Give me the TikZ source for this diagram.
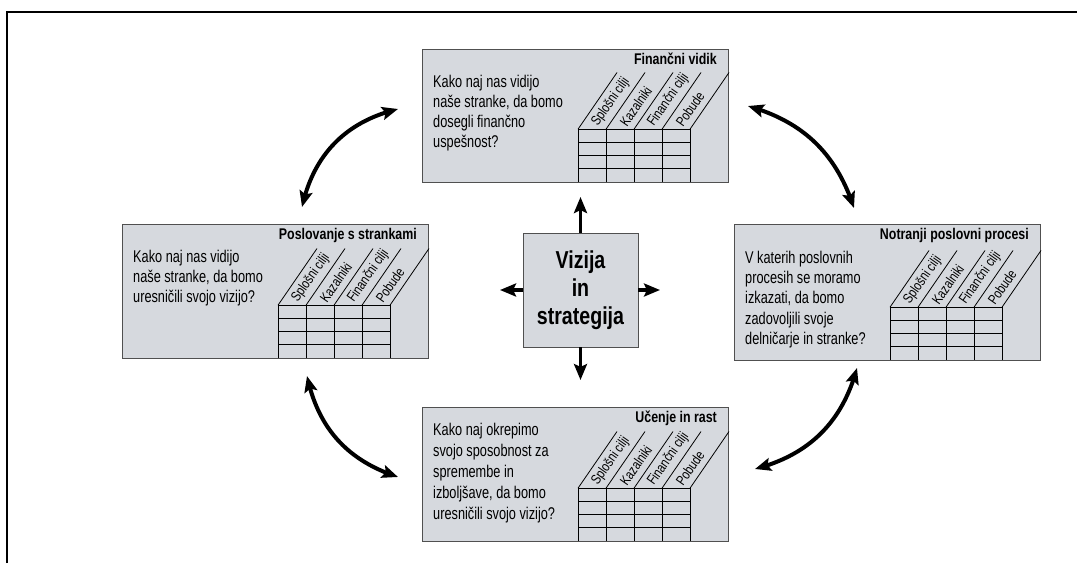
\documentclass[tikz,border=0pt]{standalone}
\usepackage{fontspec}
\setmainfont{Liberation Sans}
\newfontfamily\nf[FakeStretch=0.8]{Liberation Sans}
\newfontfamily\nb[FakeStretch=0.75]{Liberation Sans}
\usetikzlibrary{arrows.meta,bending,calc}
\definecolor{panelfill}{RGB}{214,217,222}
\definecolor{panelborder}{RGB}{80,80,80}
\tikzset{
  panel/.style={draw=panelborder, line width=0.8pt, fill=panelfill, inner sep=0pt, outer sep=0pt},
  tbl/.style={line width=0.8pt, black},
  collabel/.style={font=\nf\fontsize{14}{14}\selectfont, rotate=55, anchor=west, inner sep=0pt},
  titletext/.style={font=\nf\bfseries\fontsize{15.5}{16}\selectfont, inner sep=0pt},
  bodytext/.style={align=left, inner sep=0pt, anchor=north west},
  carrow/.style={line width=3.6pt, -{Stealth[length=16pt,width=13pt,inset=3pt]}},
  cvarrow/.style={line width=4pt, {Stealth[length=16pt,width=13pt,inset=3pt]}-{Stealth[length=16pt,width=13pt,inset=3pt]}},
}
% #1 name, #2 left, #3 top, #4 bottom, #5 title, #6 body, #7 first baseline offset, #8 line skip
\newcommand\bscpanel[8]{%
  \node[panel, minimum width=306pt, minimum height={#4pt-#3pt}, anchor=north west] (#1) at (#2,#3) {};
  \pgfmathsetmacro\xl{#2+156}%
  \pgfmathsetmacro\yt{#4-52.8}%
  \foreach \k in {0,1,2,3} {\draw[tbl] (\xl,{\yt+13.2*\k}) -- ({\xl+112},{\yt+13.2*\k});}
  \foreach \i in {0,1,2,3,4} {
    \draw[tbl] ({\xl+28*\i},\yt) -- ({\xl+28*\i},#4);
    \draw[tbl] ({\xl+28*\i},\yt) -- ({\xl+28*\i+39},{\yt-56.7});
  }
  \foreach \lab [count=\i from 0] in {Splošni cilji,Kazalniki,Finančni cilji,Pobude} {
    \node[collabel] (#1-l\i) at ({\xl+28*\i+16.8},{\yt-4.2}) {\lab};
  }
  \node[titletext, anchor=base east] (#1-h) at (#2+295,#3+15.5) {#5};
  \node[bodytext, font={\nb\fontsize{17}{#8}\selectfont}] (#1-t) at (#2+11,#3+#7-12.2) {#6};
}
\begin{document}
\begin{tikzpicture}[x=1pt,y=-1pt]
\useasboundingbox (0,0) rectangle (1077,563);
\fill[white] (0,0) rectangle (1077,563);
\draw[line width=2pt] (7,563) -- (7,12) -- (1077,12);

\bscpanel{fin}{422}{49}{182}{Finančni vidik}{Kako naj nas vidijo\\naše stranke, da bomo\\dosegli finančno\\uspešnost?}{37.7}{20}
\bscpanel{str}{122}{224}{358}{Poslovanje s strankami}{Kako naj nas vidijo\\naše stranke, da bomo\\uresničili svojo vizijo?}{37.7}{20}
\bscpanel{pro}{734}{224}{360}{Notranji poslovni procesi}{V katerih poslovnih\\procesih se moramo\\izkazati, da bomo\\zadovoljili svoje\\delničarje in stranke?}{39}{20.3}
\bscpanel{uc}{422}{407}{541}{Učenje in rast}{Kako naj okrepimo\\svojo sposobnost za\\spremembe in\\izboljšave, da bomo\\uresničili svojo vizijo?}{28}{21}

\node[panel, minimum width=115pt, minimum height=114pt, align=center,
      font={\nf\bfseries\fontsize{24.5}{28}\selectfont}] (vis) at (580.5,290) {Vizija\\in\\strategija};

\coordinate (upE) at (580.5,197);
\coordinate (dnE) at (580.5,380);
\coordinate (lfE) at (500,290);
\coordinate (rtE) at (660,290);
\draw[carrow] (vis.north) -- (upE);
\draw[carrow] (vis.south) -- (dnE);
\draw[carrow] (vis.west) -- (lfE);
\draw[carrow] (vis.east) -- (rtE);

\coordinate (a1s) at (302,207);
\coordinate (a1e) at (398,109);
\coordinate (a2s) at (748,106);
\coordinate (a2e) at (854,208);
\coordinate (a3s) at (307,376);
\coordinate (a3e) at (398,477);
\coordinate (a4s) at (857,368);
\coordinate (a4e) at (755,469);
\draw[cvarrow] (a1s) to[bend left=32] (a1e);
\draw[cvarrow] (a2s) to[bend left=28] (a2e);
\draw[cvarrow] (a3s) to[bend right=30] (a3e);
\draw[cvarrow] (a4s) to[bend left=30] (a4e);
\end{tikzpicture}
\end{document}
